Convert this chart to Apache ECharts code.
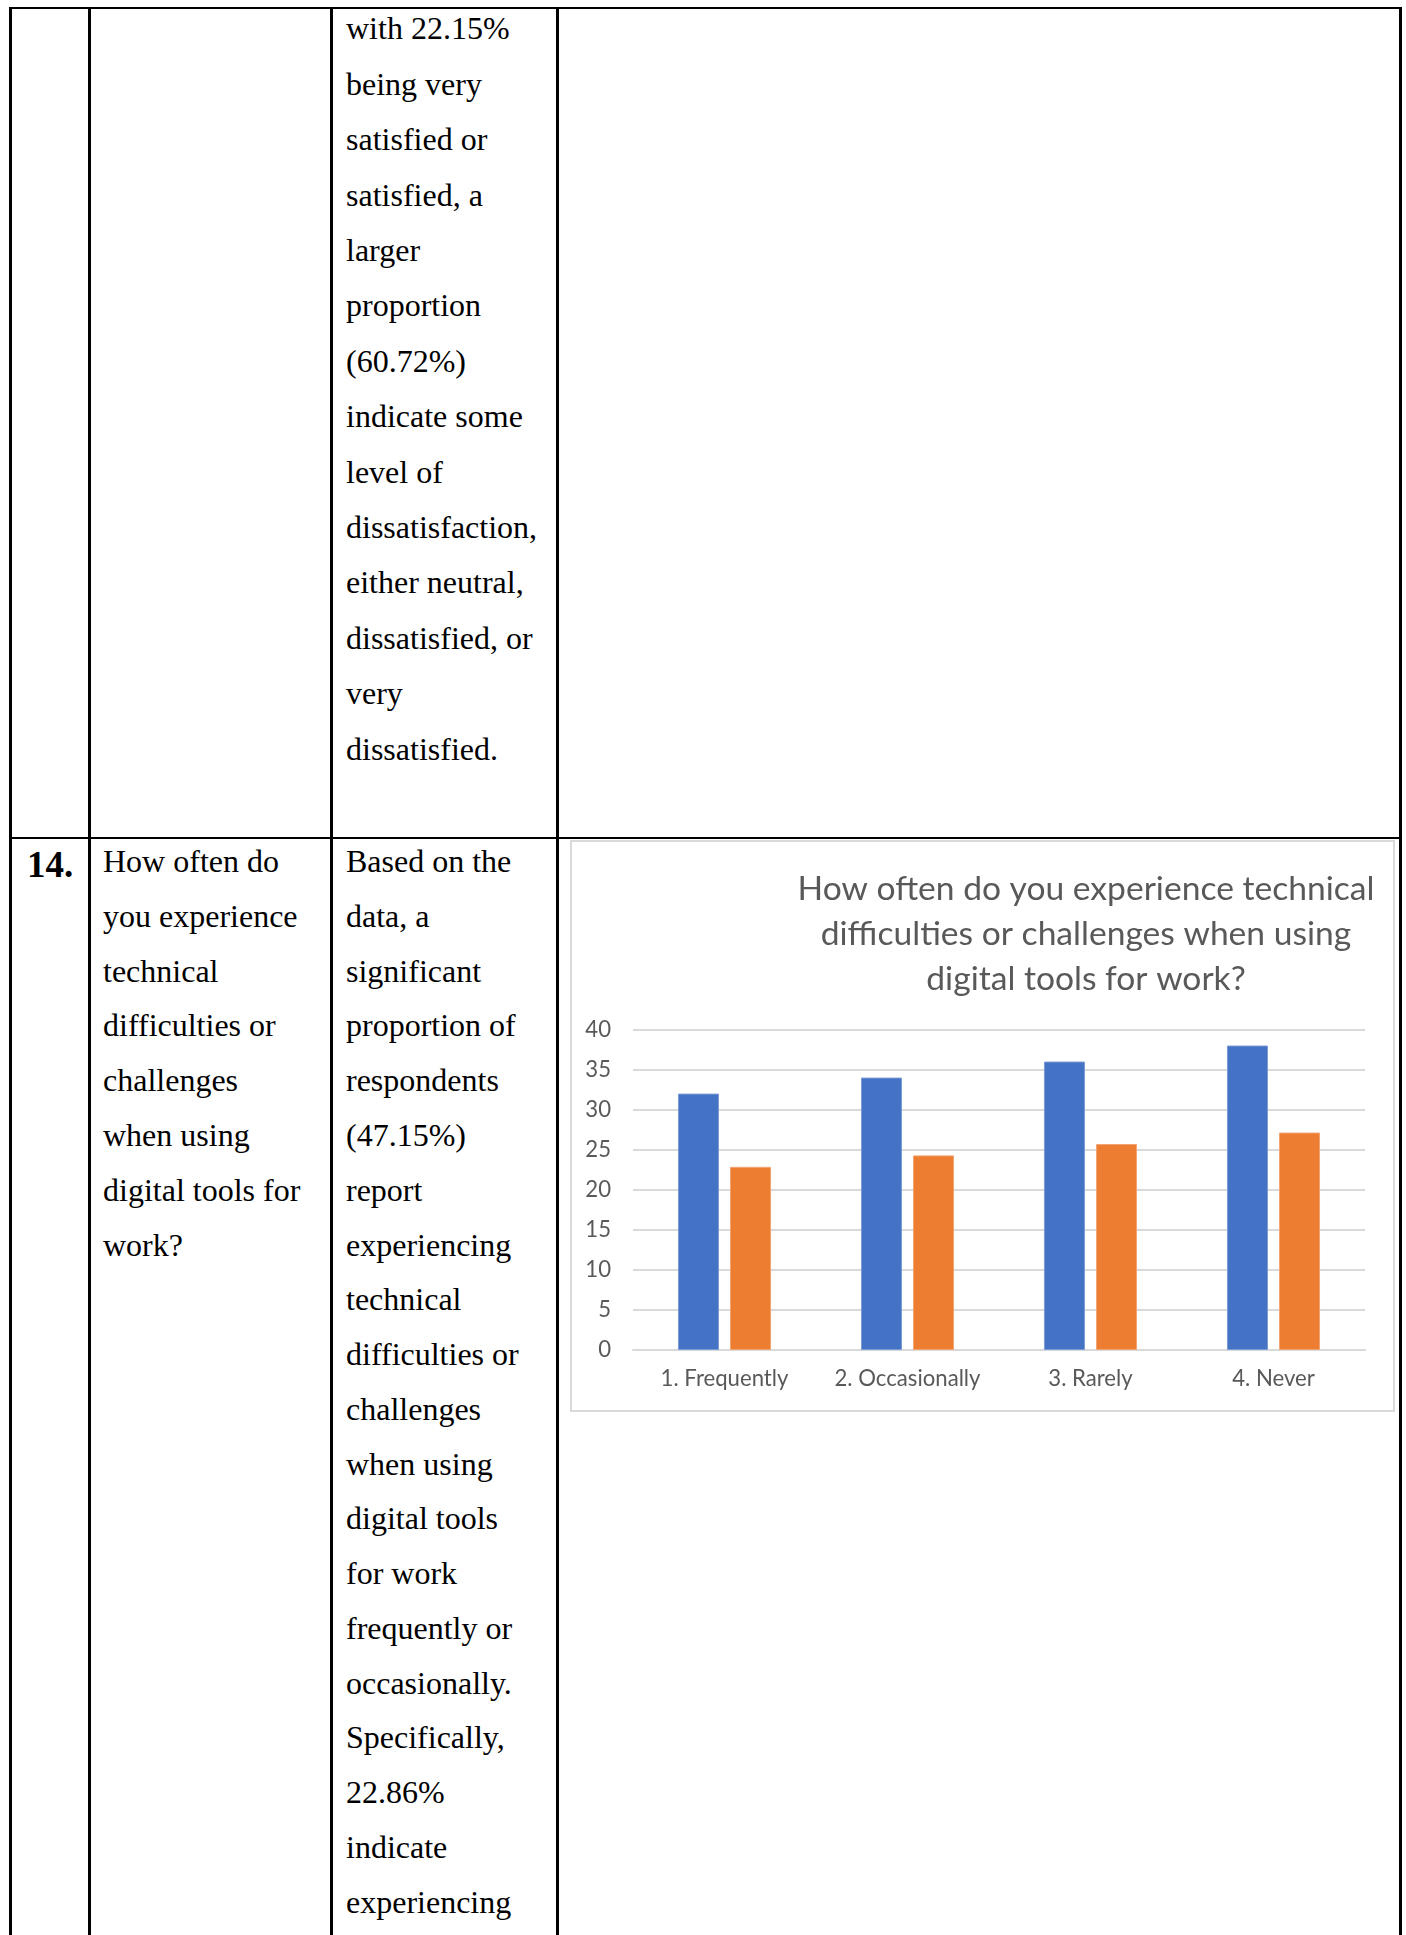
<!DOCTYPE html>
<html>
<head>
<meta charset="utf-8">
<title>Technical difficulties with digital tools</title>
<script src="https://cdn.jsdelivr.net/npm/echarts@6/dist/echarts.min.js"></script>
<style>
  html, body { margin: 0; padding: 0; background: #fff; }
  body {
    width: 1406px; height: 1935px; position: relative; overflow: hidden;
    font-family: "Liberation Serif", "Times New Roman", serif; color: #000;
  }
  .vl { position: absolute; top: 7px; bottom: 0; width: 3px; background: #000; }
  .hl { position: absolute; left: 9px; width: 1393px; height: 2px; background: #000; }
  .cell { position: absolute; font-size: 32px; white-space: nowrap; }
  .top-rows { top: 1.3px; line-height: 55.4px; }
  .q-rows { top: 834.2px; line-height: 54.77px; }
  .num { position: absolute; left: 27px; top: 838px; font-size: 37px; font-weight: bold; line-height: 54.77px; }
  #chart {
    position: absolute; left: 570px; top: 840px; width: 825px; height: 572px;
    box-sizing: border-box; border: 2px solid #d9d9d9; background: #fff;
  }
</style>
</head>
<body>
  <!-- table rules -->
  <div class="hl" style="top:7px"></div>
  <div class="hl" style="top:837px"></div>
  <div class="vl" style="left:9px"></div>
  <div class="vl" style="left:88px"></div>
  <div class="vl" style="left:330px"></div>
  <div class="vl" style="left:556px"></div>
  <div class="vl" style="left:1399px"></div>

  <!-- end of row 13 -->
  <div class="cell top-rows" style="left:346px">with 22.15%<br>being very<br>satisfied or<br>satisfied, a<br>larger<br>proportion<br>(60.72%)<br>indicate some<br>level of<br>dissatisfaction,<br>either neutral,<br>dissatisfied, or<br>very<br>dissatisfied.</div>

  <!-- row 14 -->
  <div class="num">14.</div>
  <div class="cell q-rows" style="left:103px">How often do<br>you experience<br>technical<br>difficulties or<br>challenges<br>when using<br>digital tools for<br>work?</div>
  <div class="cell q-rows" style="left:346px">Based on the<br>data, a<br>significant<br>proportion of<br>respondents<br>(47.15%)<br>report<br>experiencing<br>technical<br>difficulties or<br>challenges<br>when using<br>digital tools<br>for work<br>frequently or<br>occasionally.<br>Specifically,<br>22.86%<br>indicate<br>experiencing</div>

  <div id="chart"></div>

<script>
  // Survey answers and the two series shown for each answer
  const categories = ['1. Frequently', '2. Occasionally', '3. Rarely', '4. Never'];
  const responseCounts = [32, 34, 36, 38];
  const responseShares = [22.86, 24.29, 25.71, 27.14];
  const yTickValues = [0, 5, 10, 15, 20, 25, 30, 35, 40];
  const titleLines = [
    'How often do you experience technical',
    'difficulties or challenges when using',
    'digital tools for work?'
  ];

  const FONT = 'Lato';

  // Size a font so that a sample string spans the wanted width
  function fitFontSize(sample, family, targetWidth) {
    const ctx = document.createElement('canvas').getContext('2d');
    ctx.font = '100px ' + family;
    return 100 * targetWidth / ctx.measureText(sample).width;
  }

  const titleSize = fitFontSize(titleLines[0], FONT, 577);
  const labelSize = fitFontSize(categories[0], FONT, 128);

  const chart = echarts.init(document.getElementById('chart'), null, { renderer: 'canvas' });

  chart.setOption({
    animation: false,
    backgroundColor: '#fff',
    title: {
      text: titleLines.join('\n'),
      left: 514,
      top: 25,
      padding: 0,
      textAlign: 'center',
      textStyle: {
        fontFamily: FONT,
        fontSize: titleSize,
        fontWeight: 'normal',
        color: '#595959',
        lineHeight: 45
      }
    },
    grid: {
      left: 61,
      right: 28,
      top: 187.5,
      bottom: 60,
      containLabel: false,
      outerBoundsMode: 'none'
    },
    xAxis: {
      type: 'category',
      data: categories,
      axisLine: { show: true, lineStyle: { color: '#d9d9d9', width: 2 } },
      axisTick: { show: false },
      axisLabel: {
        interval: 0,
        hideOverlap: false,
        color: '#595959',
        fontFamily: FONT,
        fontSize: labelSize,
        margin: 18
      }
    },
    yAxis: {
      type: 'value',
      min: yTickValues[0],
      max: yTickValues[yTickValues.length - 1],
      interval: yTickValues[1] - yTickValues[0],
      axisLine: { show: false },
      axisTick: { show: false },
      splitLine: { lineStyle: { color: '#d9d9d9', width: 2 } },
      axisLabel: {
        color: '#595959',
        fontFamily: FONT,
        fontSize: labelSize,
        margin: 22
      }
    },
    series: [
      {
        name: 'Responses',
        type: 'bar',
        data: responseCounts,
        barWidth: 41,
        barGap: '27%',
        itemStyle: { color: '#4472c4', borderColor: '#7b9bd6', borderWidth: 1 }
      },
      {
        name: 'Share (%)',
        type: 'bar',
        data: responseShares,
        barWidth: 41,
        itemStyle: { color: '#ed7d31', borderColor: '#f3a474', borderWidth: 1 }
      }
    ]
  });
</script>
</body>
</html>
